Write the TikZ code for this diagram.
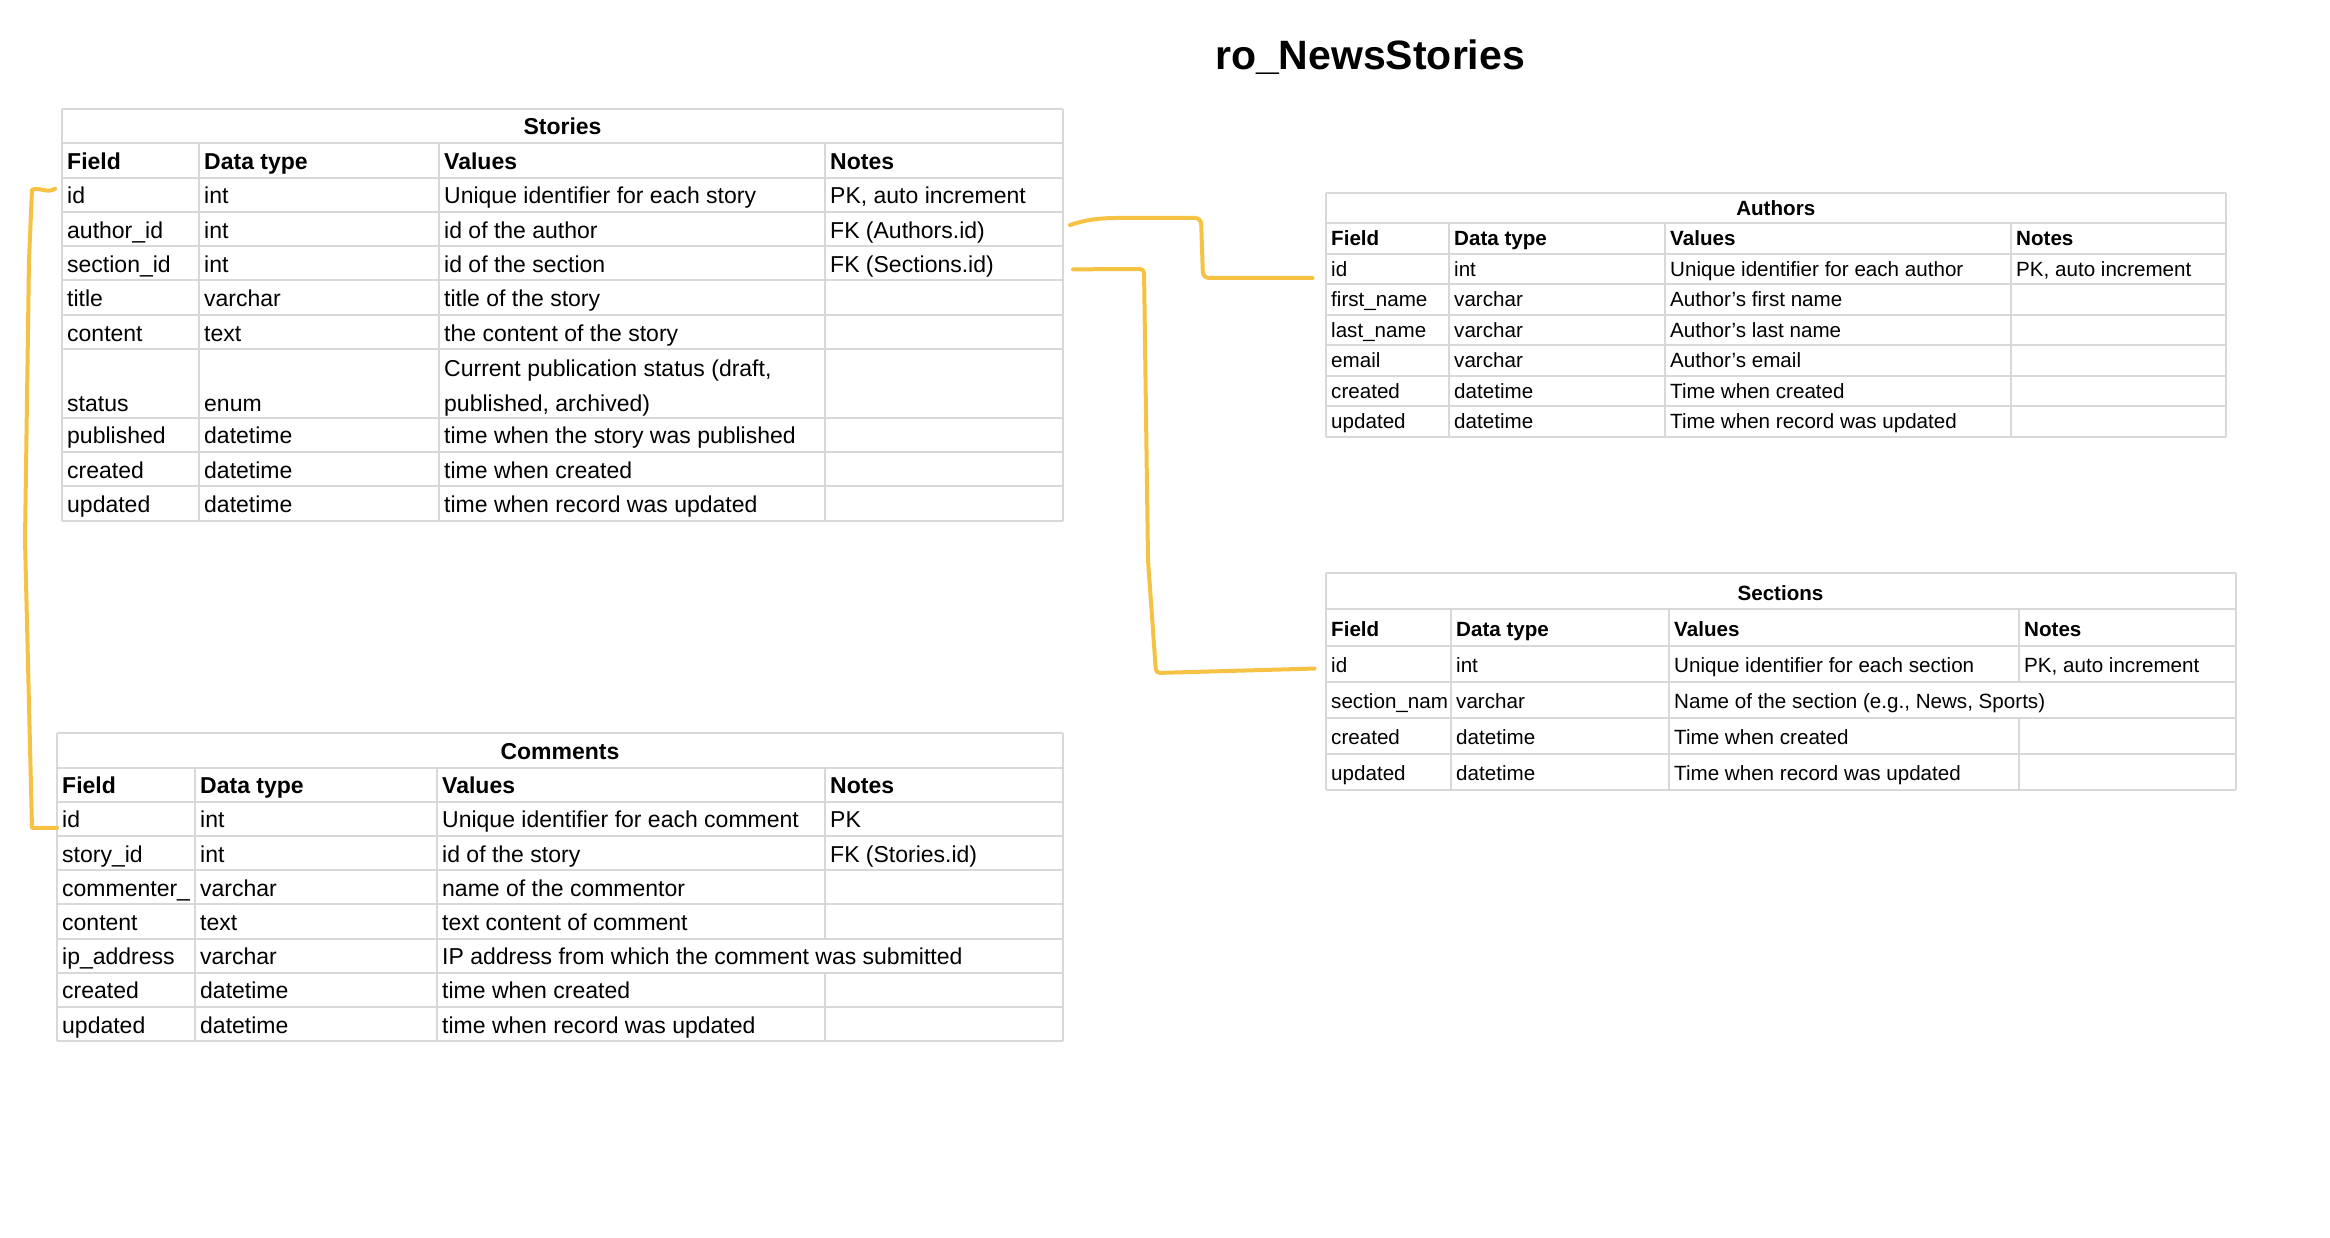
\documentclass[tikz,border=0pt]{standalone}
\usepackage{fontspec}
\setmainfont{Liberation Sans}
\usetikzlibrary{calc}
\definecolor{gridgray}{RGB}{216,216,216}
\definecolor{linkyellow}{RGB}{246,194,67}

\begin{document}
\begin{tikzpicture}[x=1pt,y=-1pt,
  grid/.style={draw=gridgray,line width=2pt},
  cell/.style={anchor=base west,inner sep=0pt,font=\fontsize{23}{28}\selectfont},
  head/.style={cell,font=\fontsize{23}{28}\selectfont\bfseries},
  tabtitle/.style={anchor=base,inner sep=0pt,font=\fontsize{23}{28}\selectfont\bfseries},
  scell/.style={anchor=base west,inner sep=0pt,font=\fontsize{20.6}{25}\selectfont},
  shead/.style={scell,font=\fontsize{20.6}{25}\selectfont\bfseries},
  stabtitle/.style={anchor=base,inner sep=0pt,font=\fontsize{20.6}{25}\selectfont\bfseries},
  link/.style={draw=linkyellow,line width=4pt,line cap=round,line join=round}]

  \useasboundingbox[fill=white] (0,0) rectangle (2330,1238);

  %--- Title ---
  \node[anchor=base,inner sep=0pt,font=\fontsize{41}{49}\selectfont\bfseries]
      (title) at (1370,70) {ro\_NewsStories};

  %--- Stories table ---
  \foreach \k in {0,...,7,9,10,11,12}
    \draw[grid] (62,{109+\k*34.3}) -- (1063,{109+\k*34.3});
  \draw[grid] (62,109) -- (62,520.6) (1063,109) -- (1063,520.6);
  \foreach \x in {199,439,825}
    \draw[grid] (\x,143.3) -- (\x,520.6);
  \node[tabtitle] (st-title) at (562.5,135) {Stories};
  \foreach \x/\h [count=\c] in {67/Field,204/Data type,444/Values,830/Notes}
    \node[head] (st-h\c) at (\x,170) {\h};
  \foreach \r/\f/\t/\v in {2/id/int/Unique identifier for each story,
      3/author\_id/int/id of the author, 4/section\_id/int/id of the section,
      5/title/varchar/title of the story, 6/content/text/the content of the story,
      9/published/datetime/time when the story was published,
      10/created/datetime/time when created,
      11/updated/datetime/time when record was updated}{
    \node[cell] (st-f\r) at (67,{109+(\r+1)*34.3-8}) {\f};
    \node[cell] (st-t\r) at (204,{109+(\r+1)*34.3-8}) {\t};
    \node[cell] (st-v\r) at (444,{109+(\r+1)*34.3-8}) {\v};
  }
  \node[cell] (st-f8) at (67,412) {status};
  \node[cell] (st-t8) at (204,412) {enum};
  \node[cell] (st-v8) at (444,377) {Current publication status (draft,};
  \node[cell] (st-v8b) at (444,412) {published, archived)};
  \node[cell] (st-n2) at (830,{109+3*34.3-8}) {PK, auto increment};
  \node[cell] (st-n3) at (830,{109+4*34.3-8}) {FK (Authors.id)};
  \node[cell] (st-n4) at (830,{109+5*34.3-8}) {FK (Sections.id)};
  \coordinate (st-idW) at (62,{109+2.5*34.3});
  \coordinate (st-auE) at (1063,{109+3.5*34.3});
  \coordinate (st-seE) at (1063,{109+4.5*34.3});

  %--- Comments table ---
  \foreach \k in {0,...,9}
    \draw[grid] (57,{733.3+\k*34.2}) -- (1063,{733.3+\k*34.2});
  \draw[grid] (57,733.3) -- (57,1041.1) (1063,733.3) -- (1063,1041.1);
  \foreach \x in {195,437}
    \draw[grid] (\x,767.5) -- (\x,1041.1);
  \draw[grid] (825,767.5) -- (825,938.5) (825,972.7) -- (825,1041.1);
  \node[tabtitle] (co-title) at (560,759.5) {Comments};
  \foreach \x/\h [count=\c] in {62/Field,200/Data type,442/Values,830/Notes}
    \node[head] (co-h\c) at (\x,793.7) {\h};
  \foreach \r/\f/\t/\v in {2/id/int/Unique identifier for each comment,
      3/story\_id/int/id of the story, 4/commenter\_/varchar/name of the commentor,
      5/content/text/text content of comment,
      6/ip\_address/varchar/IP address from which the comment was submitted,
      7/created/datetime/time when created,
      8/updated/datetime/time when record was updated}{
    \node[cell] (co-f\r) at (62,{733.3+(\r+1)*34.2-8}) {\f};
    \node[cell] (co-t\r) at (200,{733.3+(\r+1)*34.2-8}) {\t};
    \node[cell] (co-v\r) at (442,{733.3+(\r+1)*34.2-8}) {\v};
  }
  \node[cell] (co-n2) at (830,{733.3+3*34.2-8}) {PK};
  \node[cell] (co-n3) at (830,{733.3+4*34.2-8}) {FK (Stories.id)};
  \coordinate (co-idW) at (57,{733.3+2.5*34.2});

  %--- Authors table ---
  \foreach \k in {0,...,8}
    \draw[grid] (1325.5,{192.7+\k*30.5}) -- (2226,{192.7+\k*30.5});
  \draw[grid] (1325.5,192.7) -- (1325.5,436.7) (2226,192.7) -- (2226,436.7);
  \foreach \x in {1449,1665,2011}
    \draw[grid] (\x,223.2) -- (\x,436.7);
  \node[stabtitle] (au-title) at (1775.75,216) {Authors};
  \foreach \x/\h [count=\c] in {1331/Field,1454/Data type,1670/Values,2016/Notes}
    \node[shead] (au-h\c) at (\x,246) {\h};
  \foreach \r/\f/\t/\v in {2/id/int/Unique identifier for each author,
      3/first\_name/varchar/Author’s first name,
      4/last\_name/varchar/Author’s last name,
      5/email/varchar/Author’s email,
      6/created/datetime/Time when created,
      7/updated/datetime/Time when record was updated}{
    \node[scell] (au-f\r) at (1331,{192.7+(\r+1)*30.5-8}) {\f};
    \node[scell] (au-t\r) at (1454,{192.7+(\r+1)*30.5-8}) {\t};
    \node[scell] (au-v\r) at (1670,{192.7+(\r+1)*30.5-8}) {\v};
  }
  \node[scell] (au-n2) at (2016,{192.7+3*30.5-8}) {PK, auto increment};
  \coordinate (au-idW) at (1325.5,{192.7+2.5*30.5});

  %--- Sections table ---
  \foreach \k in {0,...,6}
    \draw[grid] (1325.5,{573.3+\k*36.1}) -- (2235.5,{573.3+\k*36.1});
  \draw[grid] (1325.5,573.3) -- (1325.5,789.9) (2235.5,573.3) -- (2235.5,789.9);
  \foreach \x in {1450.5,1668.5}
    \draw[grid] (\x,609.4) -- (\x,789.9);
  \draw[grid] (2018.5,609.4) -- (2018.5,681.6) (2018.5,717.7) -- (2018.5,789.9);
  \node[stabtitle] (se-title) at (1780.5,600.4) {Sections};
  \foreach \x/\h [count=\c] in {1331/Field,1456/Data type,1674/Values,2024/Notes}
    \node[shead] (se-h\c) at (\x,636.5) {\h};
  \foreach \r/\f/\t/\v in {2/id/int/Unique identifier for each section,
      3/section\_nam/varchar/{Name of the section (e.g., News, Sports)},
      4/created/datetime/Time when created,
      5/updated/datetime/Time when record was updated}{
    \node[scell] (se-f\r) at (1331,{573.3+(\r+1)*36.1-9}) {\f};
    \node[scell] (se-t\r) at (1456,{573.3+(\r+1)*36.1-9}) {\t};
    \node[scell] (se-v\r) at (1674,{573.3+(\r+1)*36.1-9}) {\v};
  }
  \node[scell] (se-n2) at (2024,{573.3+3*36.1-9}) {PK, auto increment};
  \coordinate (se-idW) at (1325.5,{573.3+2.5*36.1});

  %--- Links (hand drawn) ---
  \draw[link] ($(st-idW)+(-7,-6)$) .. controls +(-8,5) and +(8,-3) ..
      ($(st-idW)+(-30,-5)$) -- (29,260) -- (25,540) -- (32,828) -- ($(co-idW)+(0,9)$);
  \draw[link,rounded corners=6] ($(st-auE)+(7,-4)$) .. controls +(15,-5) and +(-15,1) ..
      (1110,218) -- (1201,218) -- (1203,278) -- ($(au-idW)+(-13,9)$);
  \draw[link,rounded corners=4] ($(st-seE)+(10,6)$) -- (1144,269) -- (1148,560)
      -- (1156,673) -- ($(se-idW)+(-11,5)$);

\end{tikzpicture}
\end{document}
